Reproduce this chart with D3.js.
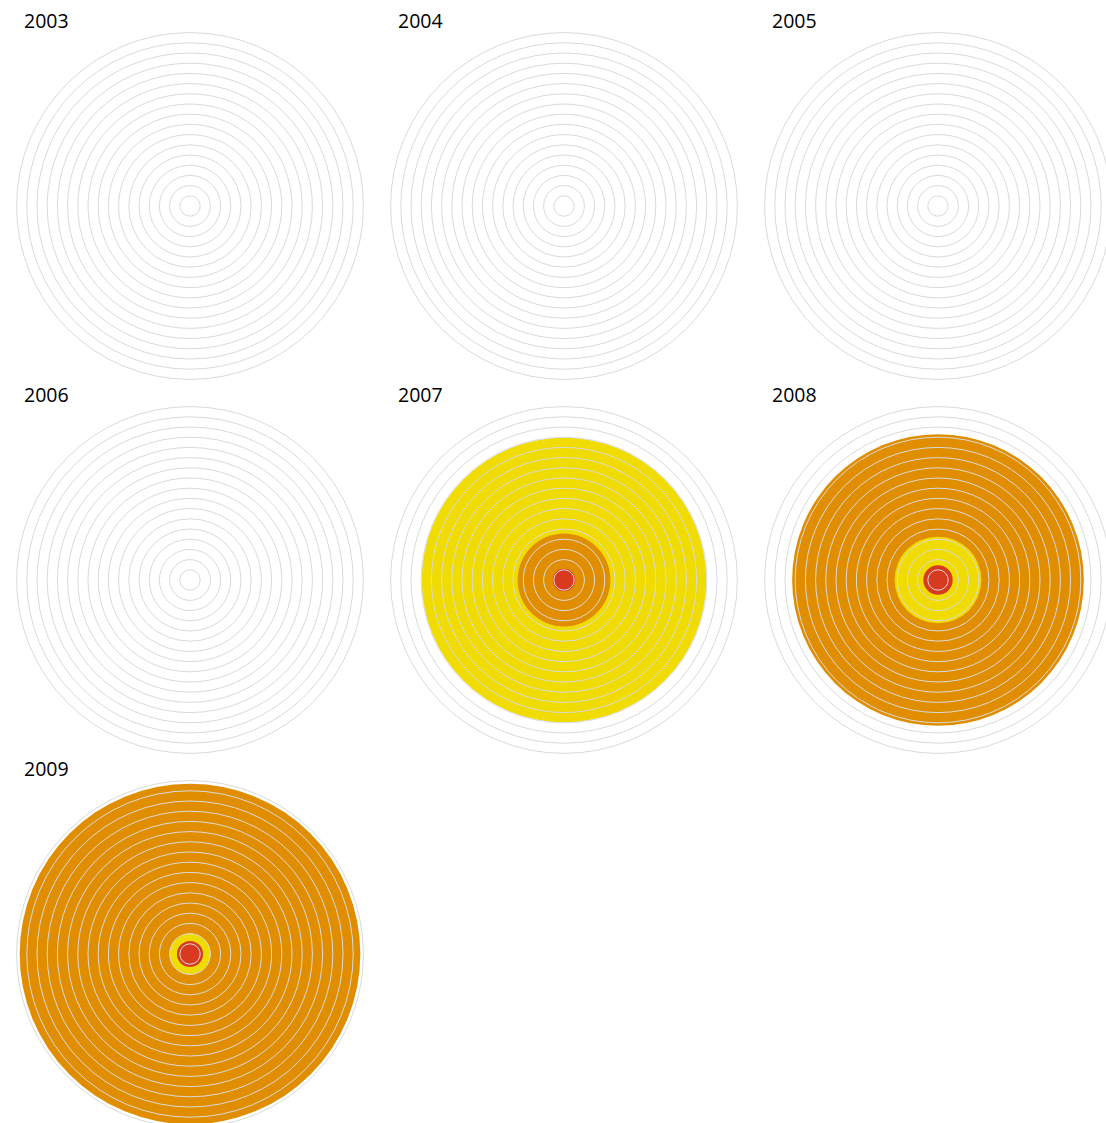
<!DOCTYPE html>
<html>
<head>
<meta charset="utf-8">
<script src="https://cdn.jsdelivr.net/npm/d3@7"></script>
<style>
	body { margin: 0; background: #fff; }
	svg { display: block; }
</style>
</head>
<body>
<div id="chart"></div>
<script>
'use strict';

// years shown, one panel each
var years = [2003, 2004, 2005, 2006, 2007, 2008, 2009];

// values per series, in grid-ring units (0..17)
var yellowValues = [0, 0, 0, 0, 13.95, 4.25, 2.0];
var orangeValues = [0, 0, 0, 0, 4.55, 14.3, 16.7];
var redValues    = [0, 0, 0, 0, 1.1, 1.44, 1.28];

var seriesNames = ["yellow", "orange", "red"];
var seriesColors = ["#f0dc00", "#e08e00", "#d83a20"];

// grid rings 1..17
var ringTicks = d3.range(1, 18);

var width = 1106;
var height = 1123;

var svg = d3.select("#chart")
	.append("svg")
	.attr("width", width)
	.attr("height", height);

var color = d3.scaleOrdinal()
	.domain(seriesNames)
	.range(seriesColors);

var r = d3.scaleLinear()
	.domain([0, 17])
	.range([0, 173.4]);

// 3 columns / 3 rows of panels
var col = d3.scaleBand().domain([0, 1, 2]).range([3, 1125]);
var row = d3.scaleBand().domain([0, 1, 2]).range([19, 1141]);

var panelData = years.map(function (y, i) {
	return {
		year: y,
		cx: col(i % 3) + col.bandwidth() / 2,
		cy: row(Math.floor(i / 3)) + row.bandwidth() / 2,
		values: [
			{ name: "yellow", value: yellowValues[i] },
			{ name: "orange", value: orangeValues[i] },
			{ name: "red", value: redValues[i] }
		].filter(function (d) { return d.value > 0; })
			.sort(function (a, b) { return b.value - a.value; })
	};
});

var panel = svg.selectAll("g.panel")
	.data(panelData)
	.enter()
	.append("g")
	.attr("class", "panel")
	.attr("transform", function (d) { return "translate(" + d.cx + "," + d.cy + ")"; });

// filled discs, biggest first
panel.selectAll("circle.fill")
	.data(function (d) { return d.values; })
	.enter()
	.append("circle")
	.attr("class", "fill")
	.attr("r", function (d) { return r(d.value); })
	.style("fill", function (d) { return color(d.name); });

// grid rings on top
panel.selectAll("circle.ring")
	.data(ringTicks)
	.enter()
	.append("circle")
	.attr("class", "ring")
	.attr("r", function (d) { return r(d); })
	.style("fill", "none")
	.style("stroke", "#dadada")
	.style("stroke-width", 1);

panel.append("text")
	.attr("x", -166)
	.attr("y", -178)
	.style("font-family", "'Open Sans', sans-serif")
	.style("font-size", "19.5px")
	.style("fill", "#000")
	.text(function (d) { return d.year; });
</script>
</body>
</html>
